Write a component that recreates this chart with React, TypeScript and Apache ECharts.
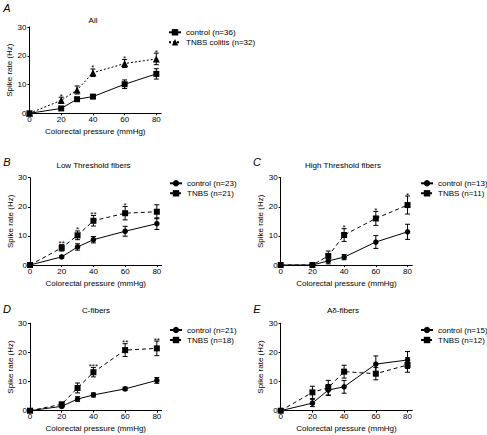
import React, { useEffect, useRef } from "react";
import * as echarts from "echarts";

const pressure = [0, 20, 30, 40, 60, 80];
const xTicks = [0, 20, 40, 60, 80];

const panelLetters = ["A", "B", "C", "D", "E"];
const panelTitles = ["All", "Low Threshold fibers", "High Threshold fibers", "C-fibers", "Aδ-fibers"];
const controlNames = ["control (n=36)", "control (n=23)", "control (n=13)", "control (n=21)", "control (n=15)"];
const tnbsNames = ["TNBS colitis (n=32)", "TNBS (n=21)", "TNBS (n=11)", "TNBS (n=18)", "TNBS (n=12)"];

const ctrlA = [0, 1.7, 4.9, 5.8, 10.1, 13.7];
const ctrlAErr = [0, 0.4, 0.6, 0.5, 1.5, 1.8];
const tnbsA = [0, 4.5, 8.1, 14.1, 17.3, 18.9];
const tnbsAErr = [0, 1.1, 1.4, 1.3, 1.4, 2.0];
const starsA = ["", "*", "", "*", "*", "*"];

const ctrlB = [0, 2.8, 6.2, 8.7, 11.6, 14.2];
const ctrlBErr = [0, 0.4, 1.1, 1.1, 1.7, 2.0];
const tnbsB = [0, 5.9, 10.2, 15.2, 17.8, 18.3];
const tnbsBErr = [0, 1.1, 1.5, 1.8, 2.3, 2.4];
const starsB = ["", "**", "*", "**", "*", ""];

const ctrlC = [0, 0, 1.4, 2.7, 7.9, 11.4];
const ctrlCErr = [0, 0, 1.0, 0.9, 2.2, 2.6];
const tnbsC = [0, 0, 3.1, 10.3, 16.0, 20.6];
const tnbsCErr = [0, 0, 1.7, 2.2, 2.4, 3.1];
const starsC = ["", "", "", "*", "*", "*"];

const ctrlD = [0, 1.5, 4.0, 5.4, 7.5, 10.4];
const ctrlDErr = [0, 0.5, 0.8, 0.7, 0.6, 1.0];
const tnbsD = [0, 2.2, 7.8, 13.2, 20.8, 21.4];
const tnbsDErr = [0, 0.5, 1.7, 1.6, 2.2, 2.5];
const starsD = ["", "", "", "***", "**", "**"];

const ctrlE = [0, 2.6, 7.1, 8.2, 16.0, 17.4];
const ctrlEErr = [0, 1.2, 1.9, 2.2, 2.8, 2.9];
const tnbsE = [0, 6.3, 7.9, 13.4, 12.7, 15.7];
const tnbsEErr = [0, 2.1, 2.5, 2.2, 2.1, 2.5];
const starsE = ["", "", "", "", "", ""];

const ctrlMeans = [ctrlA, ctrlB, ctrlC, ctrlD, ctrlE];
const ctrlErrs = [ctrlAErr, ctrlBErr, ctrlCErr, ctrlDErr, ctrlEErr];
const tnbsMeans = [tnbsA, tnbsB, tnbsC, tnbsD, tnbsE];
const tnbsErrs = [tnbsAErr, tnbsBErr, tnbsCErr, tnbsDErr, tnbsEErr];
const starLabels = [starsA, starsB, starsC, starsD, starsE];

const FONT = "'Liberation Sans', Arial, Helvetica, sans-serif";

// layout (pixels)
const gridLayout = [
  { left: 29.5, top: 27, width: 131.6, height: 86.3 },
  { left: 30, top: 177.7, width: 131.6, height: 87.3 },
  { left: 280.7, top: 177.7, width: 131.6, height: 87.3 },
  { left: 30, top: 323.3, width: 131.6, height: 87.4 },
  { left: 280.7, top: 323.3, width: 131.6, height: 87.4 },
];
const titlePos = [
  [93, 20], [93.5, 165], [343, 165], [96, 310.7], [343, 310.7],
];
const letterPos = [
  [7, 8], [7, 162], [257, 162], [7, 309], [257, 309],
];
const legendPos = [
  [168, 28.3], [169, 179.3], [420, 179.3], [169, 326], [420, 326],
];

function errorBarSeries(i: number, means: number[], errs: number[]) {
  return {
    type: "custom",
    xAxisIndex: i,
    yAxisIndex: i,
    silent: true,
    z: 3,
    data: pressure.map((x, k) => [x, means[k], errs[k]]),
    renderItem: (params: any, api: any) => {
      const x = api.value(0);
      const m = api.value(1);
      const e = api.value(2);
      if (!e) return null;
      const top = api.coord([x, m + e]);
      const bot = api.coord([x, m - e]);
      const cw = 2.5;
      const st = { stroke: "#000", lineWidth: 1 };
      return {
        type: "group",
        children: [
          { type: "line", shape: { x1: top[0], y1: top[1], x2: bot[0], y2: bot[1] }, style: st },
          { type: "line", shape: { x1: top[0] - cw, y1: top[1], x2: top[0] + cw, y2: top[1] }, style: st },
          { type: "line", shape: { x1: bot[0] - cw, y1: bot[1], x2: bot[0] + cw, y2: bot[1] }, style: st },
        ],
      };
    },
  };
}

function starSeries(i: number, means: number[], errs: number[], stars: string[]) {
  return {
    type: "custom",
    xAxisIndex: i,
    yAxisIndex: i,
    silent: true,
    z: 4,
    data: pressure.map((x, k) => [x, means[k] + errs[k], k]),
    renderItem: (params: any, api: any) => {
      const k = api.value(2);
      const s = stars[k];
      if (!s) return null;
      const p = api.coord([api.value(0), api.value(1)]);
      return {
        type: "text",
        x: p[0],
        y: p[1] + 3,
        style: {
          text: s,
          textAlign: "center",
          textVerticalAlign: "bottom",
          fontSize: 8,
          fontFamily: FONT,
          fill: "#000",
        },
      };
    },
  };
}

export default function App() {
  const ref = useRef<HTMLDivElement>(null);
  useEffect(() => {
    if (!ref.current) return;
    const chart = echarts.init(ref.current, undefined, { renderer: "svg" });

    const grids = gridLayout.map((g) => ({ ...g, containLabel: false }));
    const xAxes = gridLayout.map((_, i) => ({
      type: "value",
      gridIndex: i,
      min: 0,
      max: 83,
      interval: 20,
      splitLine: { show: false },
      axisLine: { show: true, lineStyle: { color: "#000", width: 1 } },
      axisTick: { show: true, length: 2, customValues: xTicks, lineStyle: { color: "#000" } },
      axisLabel: { customValues: xTicks, fontSize: 8, margin: 2, color: "#000", fontFamily: FONT },
      name: "Colorectal pressure (mmHg)",
      nameLocation: "middle",
      nameGap: 14,
      nameTextStyle: { fontSize: 8, color: "#000", fontFamily: FONT },
    }));
    const yAxes = gridLayout.map((_, i) => ({
      type: "value",
      gridIndex: i,
      min: 0,
      max: 30,
      interval: 10,
      splitLine: { show: false },
      axisLine: { show: true, lineStyle: { color: "#000", width: 1 } },
      axisTick: { show: true, length: 2, lineStyle: { color: "#000" } },
      axisLabel: { fontSize: 8, margin: 3, color: "#000", fontFamily: FONT },
      name: "Spike rate (Hz)",
      nameLocation: "middle",
      nameGap: 13,
      nameTextStyle: { fontSize: 8, color: "#000", fontFamily: FONT },
    }));

    const series: any[] = [];
    for (let i = 0; i < 5; i++) {
      const ctrlSymbol = i === 0 ? "rect" : "circle";
      const tnbsSymbol = i === 0 ? "triangle" : "rect";
      const tnbsDash = i === 0 ? [2, 2] : [4, 3];
      series.push(errorBarSeries(i, ctrlMeans[i], ctrlErrs[i]));
      series.push(errorBarSeries(i, tnbsMeans[i], tnbsErrs[i]));
      series.push({
        type: "line",
        name: controlNames[i],
        xAxisIndex: i,
        yAxisIndex: i,
        data: pressure.map((x, k) => [x, ctrlMeans[i][k]]),
        symbol: ctrlSymbol,
        symbolSize: i === 0 ? 6 : 5.5,
        showAllSymbol: true,
        color: "#000",
        itemStyle: { color: "#000" },
        lineStyle: { color: "#000", width: 1, type: "solid" },
        z: 5,
      });
      series.push({
        type: "line",
        name: tnbsNames[i],
        xAxisIndex: i,
        yAxisIndex: i,
        data: pressure.map((x, k) => [x, tnbsMeans[i][k]]),
        symbol: tnbsSymbol,
        symbolSize: i === 0 ? 7 : 6,
        showAllSymbol: true,
        color: "#000",
        itemStyle: { color: "#000" },
        lineStyle: { color: "#000", width: 1, type: tnbsDash },
        z: 5,
      });
      series.push(starSeries(i, tnbsMeans[i], tnbsErrs[i], starLabels[i]));
    }

    const legends = legendPos.map((p, i) => ({
      left: p[0],
      top: p[1],
      orient: "vertical",
      data: [controlNames[i], tnbsNames[i]],
      itemWidth: 12,
      itemHeight: 8,
      itemGap: 2,
      padding: 0,
      selectedMode: false,
      textStyle: { fontSize: 8, color: "#000", fontFamily: FONT, lineHeight: 8 },
    }));

    const graphics: any[] = [];
    panelTitles.forEach((t, i) => {
      graphics.push({
        type: "text",
        x: titlePos[i][0],
        y: titlePos[i][1],
        style: { text: t, fontSize: 8, fontFamily: FONT, fill: "#000", textAlign: "center", textVerticalAlign: "middle" },
      });
    });
    panelLetters.forEach((t, i) => {
      graphics.push({
        type: "text",
        x: letterPos[i][0],
        y: letterPos[i][1],
        style: { text: t, fontSize: 11, fontStyle: "italic", fontFamily: FONT, fill: "#000", textAlign: "center", textVerticalAlign: "middle" },
      });
    });

    chart.setOption({
      animation: false,
      backgroundColor: "#fff",
      textStyle: { fontFamily: FONT },
      grid: grids,
      xAxis: xAxes,
      yAxis: yAxes,
      legend: legends,
      series,
      graphic: graphics,
    });
    return () => chart.dispose();
  }, []);
  return (
    <div
      ref={ref}
      style={{ position: "absolute", left: 0, top: 0, width: 487, height: 435 }}
    />
  );
}
